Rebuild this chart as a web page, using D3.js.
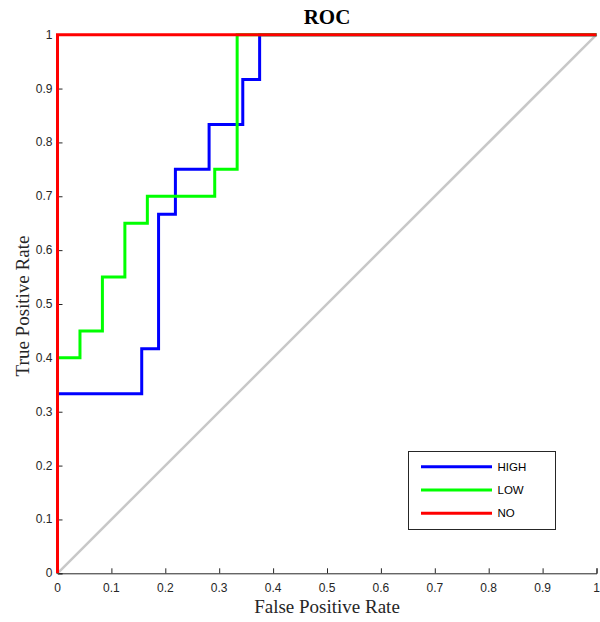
<!DOCTYPE html>
<html>
<head>
<meta charset="utf-8">
<script src="https://cdn.jsdelivr.net/npm/d3@7"></script>
<style>
  html, body { margin: 0; padding: 0; background: #fff; }
  svg { display: block; }
</style>
</head>
<body>
<svg id="chart" width="600" height="622"></svg>
<script>
// ROC curves for the three classes
const highFPR = [0, 0, 0.15625, 0.15625, 0.1875, 0.1875, 0.21875, 0.21875, 0.28125, 0.28125, 0.34375, 0.34375, 0.375, 0.375, 1];
const highTPR = [0, 0.3333, 0.3333, 0.4167, 0.4167, 0.6667, 0.6667, 0.75, 0.75, 0.8333, 0.8333, 0.9167, 0.9167, 1, 1];
const lowFPR = [0, 0, 0.0417, 0.0417, 0.0833, 0.0833, 0.125, 0.125, 0.1667, 0.1667, 0.2917, 0.2917, 0.3333, 0.3333, 1];
const lowTPR = [0, 0.4, 0.4, 0.45, 0.45, 0.55, 0.55, 0.65, 0.65, 0.7, 0.7, 0.75, 0.75, 1, 1];
const noFPR = [0, 0, 1];
const noTPR = [0, 1, 1];
const chanceLine = [0, 1];
const seriesNames = ["HIGH", "LOW", "NO"];
const seriesColors = ["#0000ff", "#00ff00", "#ff0000"];
const tickValues = [0, 0.1, 0.2, 0.3, 0.4, 0.5, 0.6, 0.7, 0.8, 0.9, 1];
const tickLabels = ["0", "0.1", "0.2", "0.3", "0.4", "0.5", "0.6", "0.7", "0.8", "0.9", "1"];

const svg = d3.select("#chart");
const plotLeft = 57.5, plotRight = 596.5, plotTop = 34.7, plotBottom = 573.3;

const x = d3.scaleLinear().domain([0, 1]).range([plotLeft, plotRight]);
const y = d3.scaleLinear().domain([0, 1]).range([plotBottom, plotTop]);

const axisColor = "#262626";
const tickFont = "'Liberation Sans', Arial, sans-serif";
const serifFont = "'Liberation Serif', 'Times New Roman', serif";

// chance diagonal
svg.append("line")
  .attr("x1", x(chanceLine[0])).attr("y1", y(chanceLine[0]))
  .attr("x2", x(chanceLine[1])).attr("y2", y(chanceLine[1]))
  .attr("stroke", "#c8c8c8").attr("stroke-width", 2.5);

// axes (ticks pointing inward)
const fmt = d => tickLabels[tickValues.indexOf(d)];
const xAxis = svg.append("g").attr("transform", `translate(0,${plotBottom})`)
  .call(d3.axisTop(x).tickValues(tickValues).tickFormat("").tickSizeOuter(0).tickSize(5));
const yAxis = svg.append("g").attr("transform", `translate(${plotLeft},0)`)
  .call(d3.axisRight(y).tickValues(tickValues).tickFormat("").tickSizeOuter(0).tickSize(5));
[xAxis, yAxis].forEach(g => {
  g.select(".domain").attr("stroke", axisColor).attr("stroke-width", 1);
  g.selectAll(".tick line").attr("stroke", axisColor).attr("stroke-width", 1);
});

// tick labels
svg.append("g").selectAll("text").data(tickValues).join("text")
  .attr("x", d => x(d)).attr("y", plotBottom + 19)
  .attr("text-anchor", "middle")
  .attr("font-family", tickFont).attr("font-size", 12).attr("fill", axisColor)
  .text(fmt);
svg.append("g").selectAll("text").data(tickValues).join("text")
  .attr("x", plotLeft - 5).attr("y", d => y(d) + 4)
  .attr("text-anchor", "end")
  .attr("font-family", tickFont).attr("font-size", 12).attr("fill", axisColor)
  .text(fmt);

// curves
const line = d3.line().x(d => x(d[0])).y(d => y(d[1]));
const curves = [
  d3.zip(highFPR, highTPR),
  d3.zip(lowFPR, lowTPR),
  d3.zip(noFPR, noTPR)
];
curves.forEach((pts, i) => {
  svg.append("path").datum(pts)
    .attr("d", line)
    .attr("fill", "none")
    .attr("stroke", seriesColors[i])
    .attr("stroke-width", 3)
    .attr("stroke-linejoin", "miter");
});

// titles
svg.append("text").attr("x", (plotLeft + plotRight) / 2).attr("y", 24)
  .attr("text-anchor", "middle")
  .attr("font-family", serifFont)
  .attr("font-weight", "bold").attr("font-size", 21).attr("fill", "#000")
  .text("ROC");
svg.append("text").attr("x", (plotLeft + plotRight) / 2).attr("y", 612.5)
  .attr("text-anchor", "middle")
  .attr("font-family", serifFont)
  .attr("font-size", 19).attr("fill", axisColor)
  .text("False Positive Rate");
svg.append("text")
  .attr("transform", `translate(29,${(plotTop + plotBottom) / 2 + 2}) rotate(-90)`)
  .attr("text-anchor", "middle")
  .attr("font-family", serifFont)
  .attr("font-size", 19).attr("fill", axisColor)
  .text("True Positive Rate");

// legend
const legend = svg.append("g");
legend.append("rect")
  .attr("x", 408.5).attr("y", 451.5).attr("width", 147).attr("height", 78)
  .attr("fill", "#fff").attr("stroke", axisColor).attr("stroke-width", 1);
seriesNames.forEach((name, i) => {
  const ly = 466.7 + i * 23.3;
  legend.append("line")
    .attr("x1", 421).attr("x2", 492).attr("y1", ly).attr("y2", ly)
    .attr("stroke", seriesColors[i]).attr("stroke-width", 3);
  legend.append("text")
    .attr("x", 497.5).attr("y", ly + 4)
    .attr("font-family", tickFont).attr("font-size", 11.5).attr("fill", "#000")
    .text(name);
});
</script>
</body>
</html>
